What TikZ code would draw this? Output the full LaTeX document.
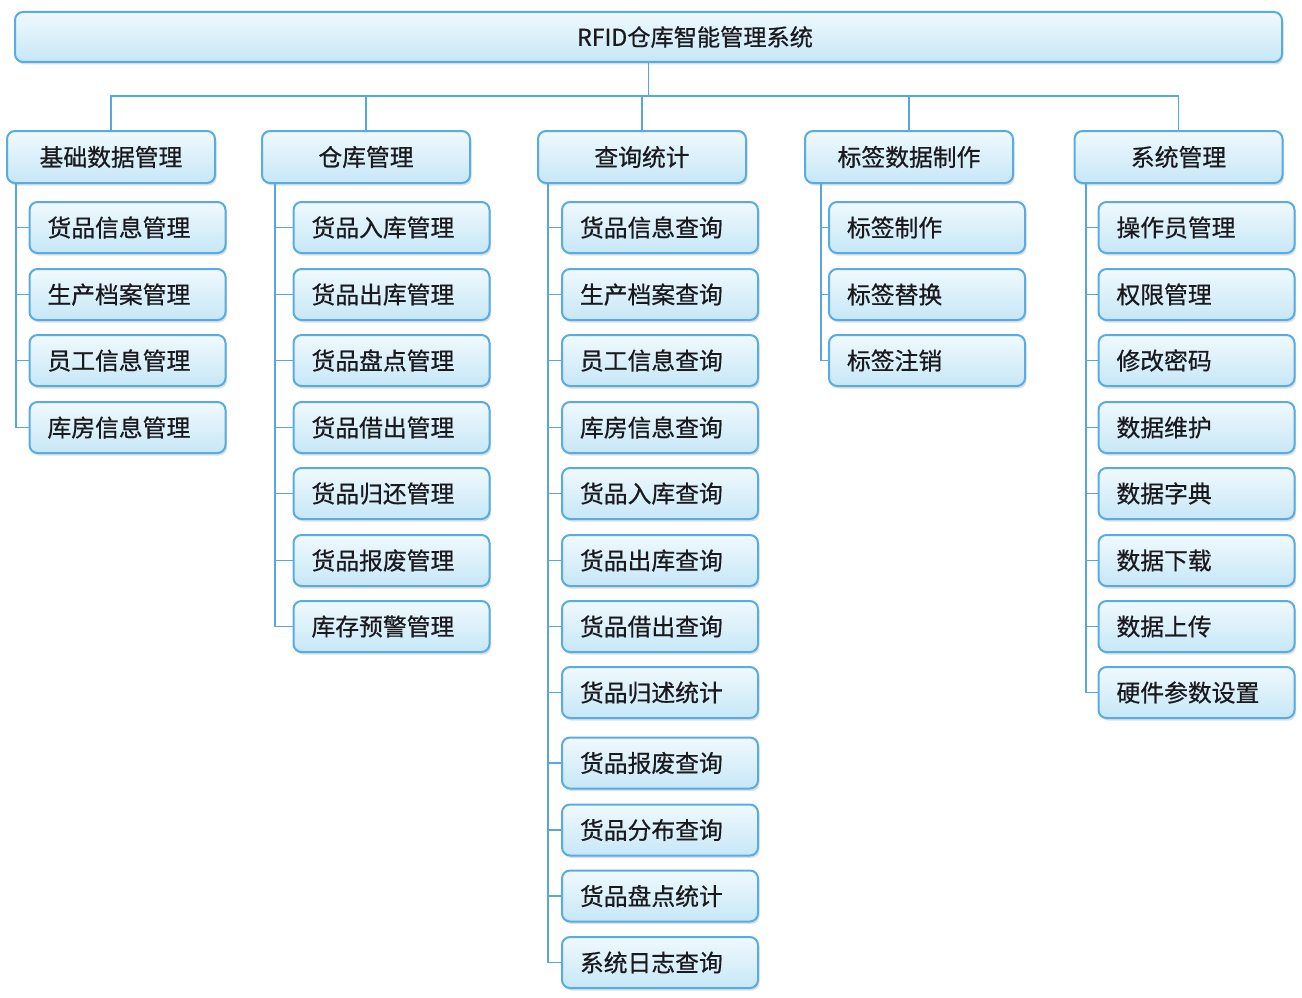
\documentclass[tikz,border=0pt]{standalone}
\usepackage{fontspec}
\newfontfamily\cjk[FakeBold=0.6]{Noto Sans CJK SC}
\usetikzlibrary{shadows}
\definecolor{boxtop}{RGB}{240,249,253}
\definecolor{boxbot}{RGB}{199,231,247}
\definecolor{boxline}{RGB}{88,172,230}
\definecolor{conline}{RGB}{88,166,222}
\definecolor{txt}{RGB}{25,25,30}
\tikzset{
  box/.style={draw=boxline, line width=2pt, rounded corners=8pt,
    top color=boxtop, bottom color=boxbot, text=txt,
    drop shadow={shadow xshift=1.5pt, shadow yshift=-2.5pt, opacity=0.25, fill=gray},
    font=\cjk\fontsize{23.8}{28}\selectfont},
  topbox/.style={box, minimum width=1267pt, minimum height=50pt, inner sep=0pt},
  grpbox/.style={box, minimum width=208pt, minimum height=52pt, inner sep=0pt},
  leafbox/.style={box, text width=160pt, align=left, inner xsep=18pt, inner ysep=0pt, minimum height=51pt},
  con/.style={draw=conline, line width=1.6pt}
}
\begin{document}
\begin{tikzpicture}[x=1pt,y=-1pt]
\useasboundingbox[fill=white] (0,0) rectangle (1302,998);
% top
\node[topbox] (top) at (648.5,37) {};
\node[font=\cjk\fontsize{23.2}{28}\selectfont, text=txt] (toptxt) at (695,37) {RFID仓库智能管理系统};
\coordinate (hub) at (648.5,96);
% groups
\node[grpbox] (g1) at (111,157) {基础数据管理};
\node[grpbox] (g2) at (366,157) {仓库管理};
\node[grpbox] (g3) at (642,157) {查询统计};
\node[grpbox] (g4) at (909,157) {标签数据制作};
\node[grpbox] (g5) at (1178.5,157) {系统管理};
% column lines
\coordinate (v1) at (16,183);
\coordinate (v2) at (275,183);
\coordinate (v3) at (548,183);
\coordinate (v4) at (821,183);
\coordinate (v5) at (1086,183);
% col1
\node[leafbox] (a1) at (127.5,227.5) {货品信息管理};
\node[leafbox] (a2) at (127.5,294.5) {生产档案管理};
\node[leafbox] (a3) at (127.5,360.5) {员工信息管理};
\node[leafbox] (a4) at (127.5,427.5) {库房信息管理};
% col2
\node[leafbox] (b1) at (391.5,227.5) {货品入库管理};
\node[leafbox] (b2) at (391.5,294.5) {货品出库管理};
\node[leafbox] (b3) at (391.5,360.5) {货品盘点管理};
\node[leafbox] (b4) at (391.5,427.5) {货品借出管理};
\node[leafbox] (b5) at (391.5,493.5) {货品归还管理};
\node[leafbox] (b6) at (391.5,560.5) {货品报废管理};
\node[leafbox] (b7) at (391.5,626.5) {库存预警管理};
% col3
\node[leafbox] (c1) at (660,227.5) {货品信息查询};
\node[leafbox] (c2) at (660,294.5) {生产档案查询};
\node[leafbox] (c3) at (660,360.5) {员工信息查询};
\node[leafbox] (c4) at (660,427.5) {库房信息查询};
\node[leafbox] (c5) at (660,493.5) {货品入库查询};
\node[leafbox] (c6) at (660,560.5) {货品出库查询};
\node[leafbox] (c7) at (660,626.5) {货品借出查询};
\node[leafbox] (c8) at (660,692.5) {货品归述统计};
\node[leafbox] (c9) at (660,763) {货品报废查询};
\node[leafbox] (c10) at (660,830) {货品分布查询};
\node[leafbox] (c11) at (660,896) {货品盘点统计};
\node[leafbox] (c12) at (660,962.5) {系统日志查询};
% col4
\node[leafbox] (d1) at (927,227.5) {标签制作};
\node[leafbox] (d2) at (927,294.5) {标签替换};
\node[leafbox] (d3) at (927,360.5) {标签注销};
% col5
\node[leafbox] (e1) at (1196.5,227.5) {操作员管理};
\node[leafbox] (e2) at (1196.5,294.5) {权限管理};
\node[leafbox] (e3) at (1196.5,360.5) {修改密码};
\node[leafbox] (e4) at (1196.5,427.5) {数据维护};
\node[leafbox] (e5) at (1196.5,493.5) {数据字典};
\node[leafbox] (e6) at (1196.5,560.5) {数据下载};
\node[leafbox] (e7) at (1196.5,626.5) {数据上传};
\node[leafbox] (e8) at (1196.5,692.5) {硬件参数设置};
% connectors top
\path[con] (top.south) -- (hub);
\path[con] (g1.north) |- (hub) -| (g5.north);
\path[con] (g2.north) -- (g2.north |- hub);
\path[con] (g3.north) -- (g3.north |- hub);
\path[con] (g4.north) -- (g4.north |- hub);
% columns
\path[con] (v1) |- (a4.west);
\foreach \n in {a1,a2,a3} {\path[con] (\n.west) -- (\n.west -| v1);}
\path[con] (v2) |- (b7.west);
\foreach \n in {b1,b2,b3,b4,b5,b6} {\path[con] (\n.west) -- (\n.west -| v2);}
\path[con] (v3) |- (c12.west);
\foreach \n in {c1,c2,c3,c4,c5,c6,c7,c8,c9,c10,c11} {\path[con] (\n.west) -- (\n.west -| v3);}
\path[con] (v4) |- (d3.west);
\foreach \n in {d1,d2} {\path[con] (\n.west) -- (\n.west -| v4);}
\path[con] (v5) |- (e8.west);
\foreach \n in {e1,e2,e3,e4,e5,e6,e7} {\path[con] (\n.west) -- (\n.west -| v5);}
\end{tikzpicture}
\end{document}
